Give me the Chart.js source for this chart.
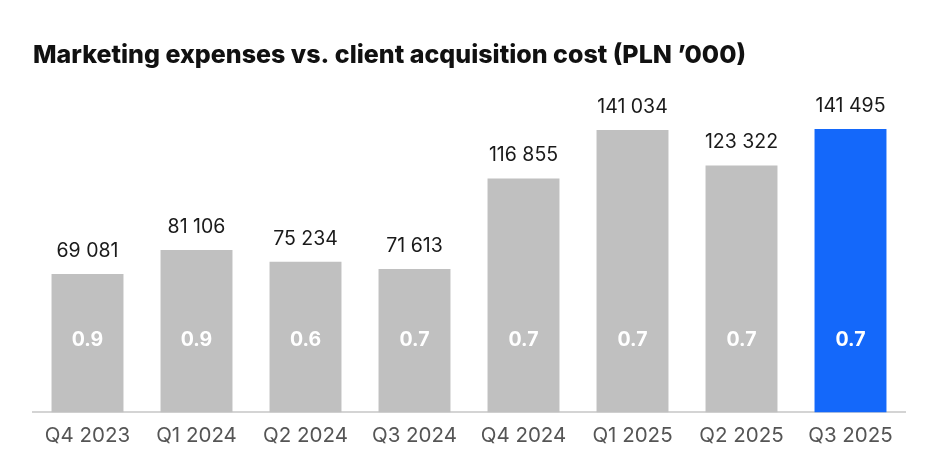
<!DOCTYPE html>
<html>
<head>
<meta charset="utf-8">
<script src="https://cdn.jsdelivr.net/npm/chart.js@4"></script>
<style>
  html, body { margin: 0; padding: 0; background: #fff; }
  #wrap { width: 941px; height: 467px; }
</style>
</head>
<body>
<div id="wrap"><canvas id="chart"></canvas></div>
<script>
const quarters = ["Q4 2023", "Q1 2024", "Q2 2024", "Q3 2024", "Q4 2024", "Q1 2025", "Q2 2025", "Q3 2025"];
const marketingExpenses = [69081, 81106, 75234, 71613, 116855, 141034, 123322, 141495];
const acquisitionCost = [0.9, 0.9, 0.6, 0.7, 0.7, 0.7, 0.7, 0.7];

const barColors = quarters.map((q, i) => i === quarters.length - 1 ? "#1468fa" : "#c0c0c0");

function fmt(v) {
  return String(v).replace(/\B(?=(\d{3})+(?!\d))/g, " ");
}

// draw value labels above bars and CAC labels inside bars
const labelPlugin = {
  id: "barLabels",
  afterDatasetsDraw(chart) {
    const ctx = chart.ctx;
    const meta = chart.getDatasetMeta(0);
    const yScale = chart.scales.y;
    ctx.save();
    ctx.textAlign = "center";
    ctx.textBaseline = "middle";
    meta.data.forEach((bar, i) => {
      ctx.fillStyle = "#1a1a1a";
      ctx.font = "400 19.5px Inter";
      ctx.fillText(fmt(marketingExpenses[i]), bar.x, bar.y - 23);
      ctx.fillStyle = "#ffffff";
      ctx.font = "700 19.5px Inter";
      ctx.fillText(acquisitionCost[i].toFixed(1), bar.x, yScale.getPixelForValue(36200));
    });
    ctx.restore();
  }
};

new Chart("chart", {
  type: "bar",
  data: {
    labels: quarters,
    datasets: [{
      data: marketingExpenses,
      backgroundColor: barColors,
      categoryPercentage: 1,
      barPercentage: 0.66
    }]
  },
  options: {
    responsive: true,
    maintainAspectRatio: false,
    animation: false,
    layout: { padding: { left: 33, right: 36, bottom: 16 } },
    plugins: {
      legend: { display: false },
      tooltip: { enabled: false },
      title: {
        display: true,
        text: "Marketing expenses vs. client acquisition cost (PLN ’000)",
        align: "start",
        color: "#111",
        font: { family: "Inter", size: 25, weight: "800" },
        padding: { top: 40, bottom: 42 }
      }
    },
    scales: {
      x: {
        grid: { display: false },
        border: { color: "#d4d4d4", width: 2 },
        ticks: { color: "#555", padding: 3, font: { family: "Inter", size: 20.5 } }
      },
      y: {
        display: false,
        min: 0,
        max: 150000
      }
    }
  },
  plugins: [labelPlugin]
});
</script>
</body>
</html>
